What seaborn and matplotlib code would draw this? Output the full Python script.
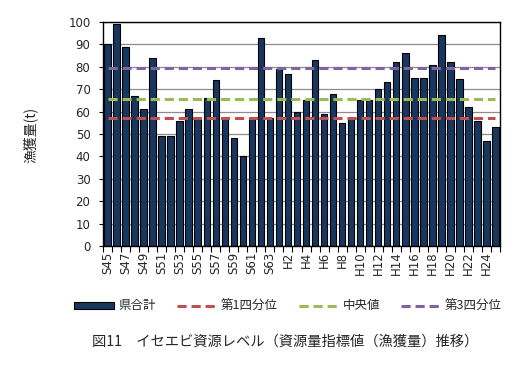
import matplotlib
matplotlib.use("Agg")
import matplotlib.pyplot as plt
import seaborn as sns
import pandas as pd
from matplotlib.patches import Patch
from matplotlib.lines import Line2D

years = ["S45","S46","S47","S48","S49","S50","S51","S52","S53","S54","S55","S56","S57","S58","S59","S60","S61","S62","S63",
         "H1","H2","H3","H4","H5","H6","H7","H8","H9","H10","H11","H12","H13","H14","H15","H16","H17","H18","H19","H20","H21","H22","H23","H24","H25"]
catch = [90,99,89,67,61,84,49,49,56,61,57,66,74,57,48,40,57,93,57,
         79,77,60,65,83,59,68,55,57,65,65,70,73,82,86,75,75,81,94,82,74.5,62,56,47,53]
q1 = 57.0
median = 65.5
q3 = 79.5

sns.set_theme(style="white")
plt.rcParams['font.family'] = ['Noto Sans CJK JP', 'DejaVu Sans']

df = pd.DataFrame({"year": years, "catch": catch})

fig = plt.figure(figsize=(5.17, 3.85), dpi=100)
ax = fig.add_axes([103/517, 1-246/385, 397/517, 224/385])

bar_color = "#17375E"
sns.barplot(data=df, x="year", y="catch", color=bar_color, edgecolor="black",
            linewidth=0.8, width=0.72, ax=ax, saturation=1)

n = len(years)
dash = (0, (3, 1.6))
ax.plot([0, n-1], [q1, q1], color="#C0504D", lw=2.2, ls=dash)
ax.plot([0, n-1], [median, median], color="#9BBB59", lw=2.2, ls=dash)
ax.plot([0, n-1], [q3, q3], color="#8064A2", lw=2.2, ls=dash)

ax.set_xlim(-0.5, n-0.5)
ax.set_ylim(0, 100)
ax.set_yticks(range(0, 101, 10))
ax.yaxis.grid(True, color="#8C8C8C", lw=0.9)
ax.set_axisbelow(True)

ax.set_xticks(range(n))
ax.set_xticklabels([y if i % 2 == 0 else "" for i, y in enumerate(years)],
                   rotation=90, fontsize=8.5, family=['DejaVu Sans'])
ax.tick_params(axis='x', which='major', length=0, pad=4)
ax.set_xticks([i - 0.5 for i in range(n+1)], minor=True)
ax.tick_params(axis='x', which='minor', length=4, width=0.8, color='black', direction='out', bottom=True)
ax.tick_params(axis='y', length=3, width=0.8, color='black', direction='out', left=True, labelsize=8.5, pad=6)
for lab in ax.get_yticklabels():
    lab.set_family(['DejaVu Sans'])

for s in ax.spines.values():
    s.set_visible(True)
    s.set_color("black")
    s.set_linewidth(1.0)

ax.set_xlabel("")
ax.set_ylabel("")
fig.text(30/517, 1-135/385, "漁獲量(t)", rotation=90, ha='center', va='center', fontsize=10)

handles = [Patch(facecolor=bar_color, edgecolor="black", linewidth=0.8),
           Line2D([0], [0], color="#C0504D", lw=2.2, ls=dash),
           Line2D([0], [0], color="#9BBB59", lw=2.2, ls=dash),
           Line2D([0], [0], color="#8064A2", lw=2.2, ls=dash)]
labels = ["県合計", "第1四分位", "中央値", "第3四分位"]
fig.legend(handles, labels, loc='center', bbox_to_anchor=(288/517, 1-306/385), ncol=4,
           frameon=False, fontsize=9, handlelength=3.2, handleheight=0.5,
           columnspacing=1.7, handletextpad=0.3)

fig.text(285/517, 1-342/385, "図11　イセエビ資源レベル（資源量指標値（漁獲量）推移）",
         ha='center', va='center', fontsize=10.3)

fig.savefig("out.png", dpi=100)
